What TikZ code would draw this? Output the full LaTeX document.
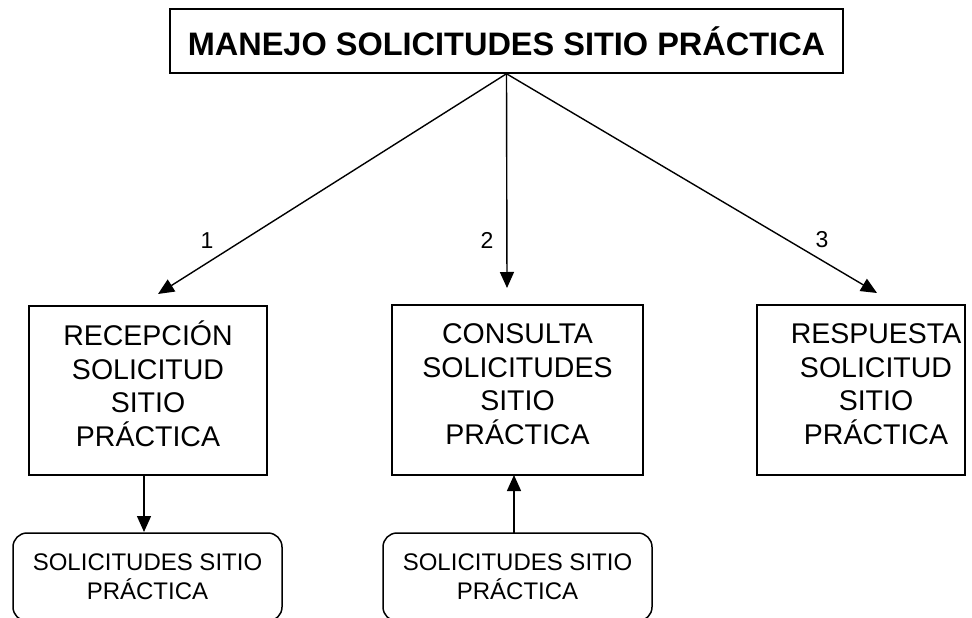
\documentclass[tikz,border=0pt]{standalone}
\usepackage{fontspec}
\setmainfont{Liberation Sans}
\usetikzlibrary{arrows.meta,calc}
\begin{document}
\begin{tikzpicture}[x=1pt,y=-1pt,
  box/.style={draw,line width=1.5pt,rectangle,inner sep=0pt},
  rbox/.style={draw,line width=1.5pt,rectangle,rounded corners=14pt,inner sep=0pt,align=center,
     font=\fontsize{24}{29}\selectfont},
  bigtxt/.style={align=center,font=\fontsize{28.5}{33.5}\selectfont,inner sep=0pt},
  lbl/.style={font=\fontsize{23}{27}\selectfont,inner sep=0pt},
  arr/.style={line width=1.4pt,-{Triangle[length=16pt,width=14pt]}}]
\useasboundingbox (0,0) rectangle (972,618);
\fill[white] (0,0) rectangle (972,618);
% top
\node[box,minimum width=673pt,minimum height=64pt,font=\bfseries\fontsize{32.5}{38}\selectfont] (top) at (506.5,41) {MANEJO SOLICITUDES SITIO PRÁCTICA};
% mid boxes
\node[box,minimum width=238pt,minimum height=169pt] (lbox) at (148,390.5) {};
\node[bigtxt] (ltxt) at (148,384) {RECEPCIÓN\\SOLICITUD\\SITIO\\PRÁCTICA};
\node[box,minimum width=251pt,minimum height=170pt] (mbox) at (517.5,390) {};
\node[bigtxt] (mtxt) at (517.5,384) {CONSULTA\\SOLICITUDES\\SITIO\\PRÁCTICA};
\node[box,minimum width=208pt,minimum height=170pt] (rbox) at (861,390) {};
\node[bigtxt] (rtxt) at (876,384) {RESPUESTA\\SOLICITUD\\SITIO\\PRÁCTICA};
% bottom rounded
\node[rbox,minimum width=269pt,minimum height=88pt] (lstore) at (147.5,577) {SOLICITUDES SITIO\\PRÁCTICA};
\node[rbox,minimum width=269pt,minimum height=88pt] (mstore) at (517.5,577) {SOLICITUDES SITIO\\PRÁCTICA};
% arrow tips
\coordinate (t1) at (158,294);
\coordinate (t2) at (507,288);
\coordinate (t3) at (877,293);
\draw[arr] (top.south) -- (t1);
\draw[arr] (top.south) -- (t2);
\draw[arr] (top.south) -- (t3);
\node[lbl] (l1) at (207,241) {1};
\node[lbl] (l2) at (487,240) {2};
\node[lbl] (l3) at (822,240) {3};
% vertical arrows
\coordinate (a1) at (144,475);
\coordinate (b1) at (144,532);
\draw[arr] (a1) -- (b1);
\coordinate (a2) at (514,533);
\coordinate (b2) at (514,475);
\draw[arr] (a2) -- (b2);
\end{tikzpicture}
\end{document}
